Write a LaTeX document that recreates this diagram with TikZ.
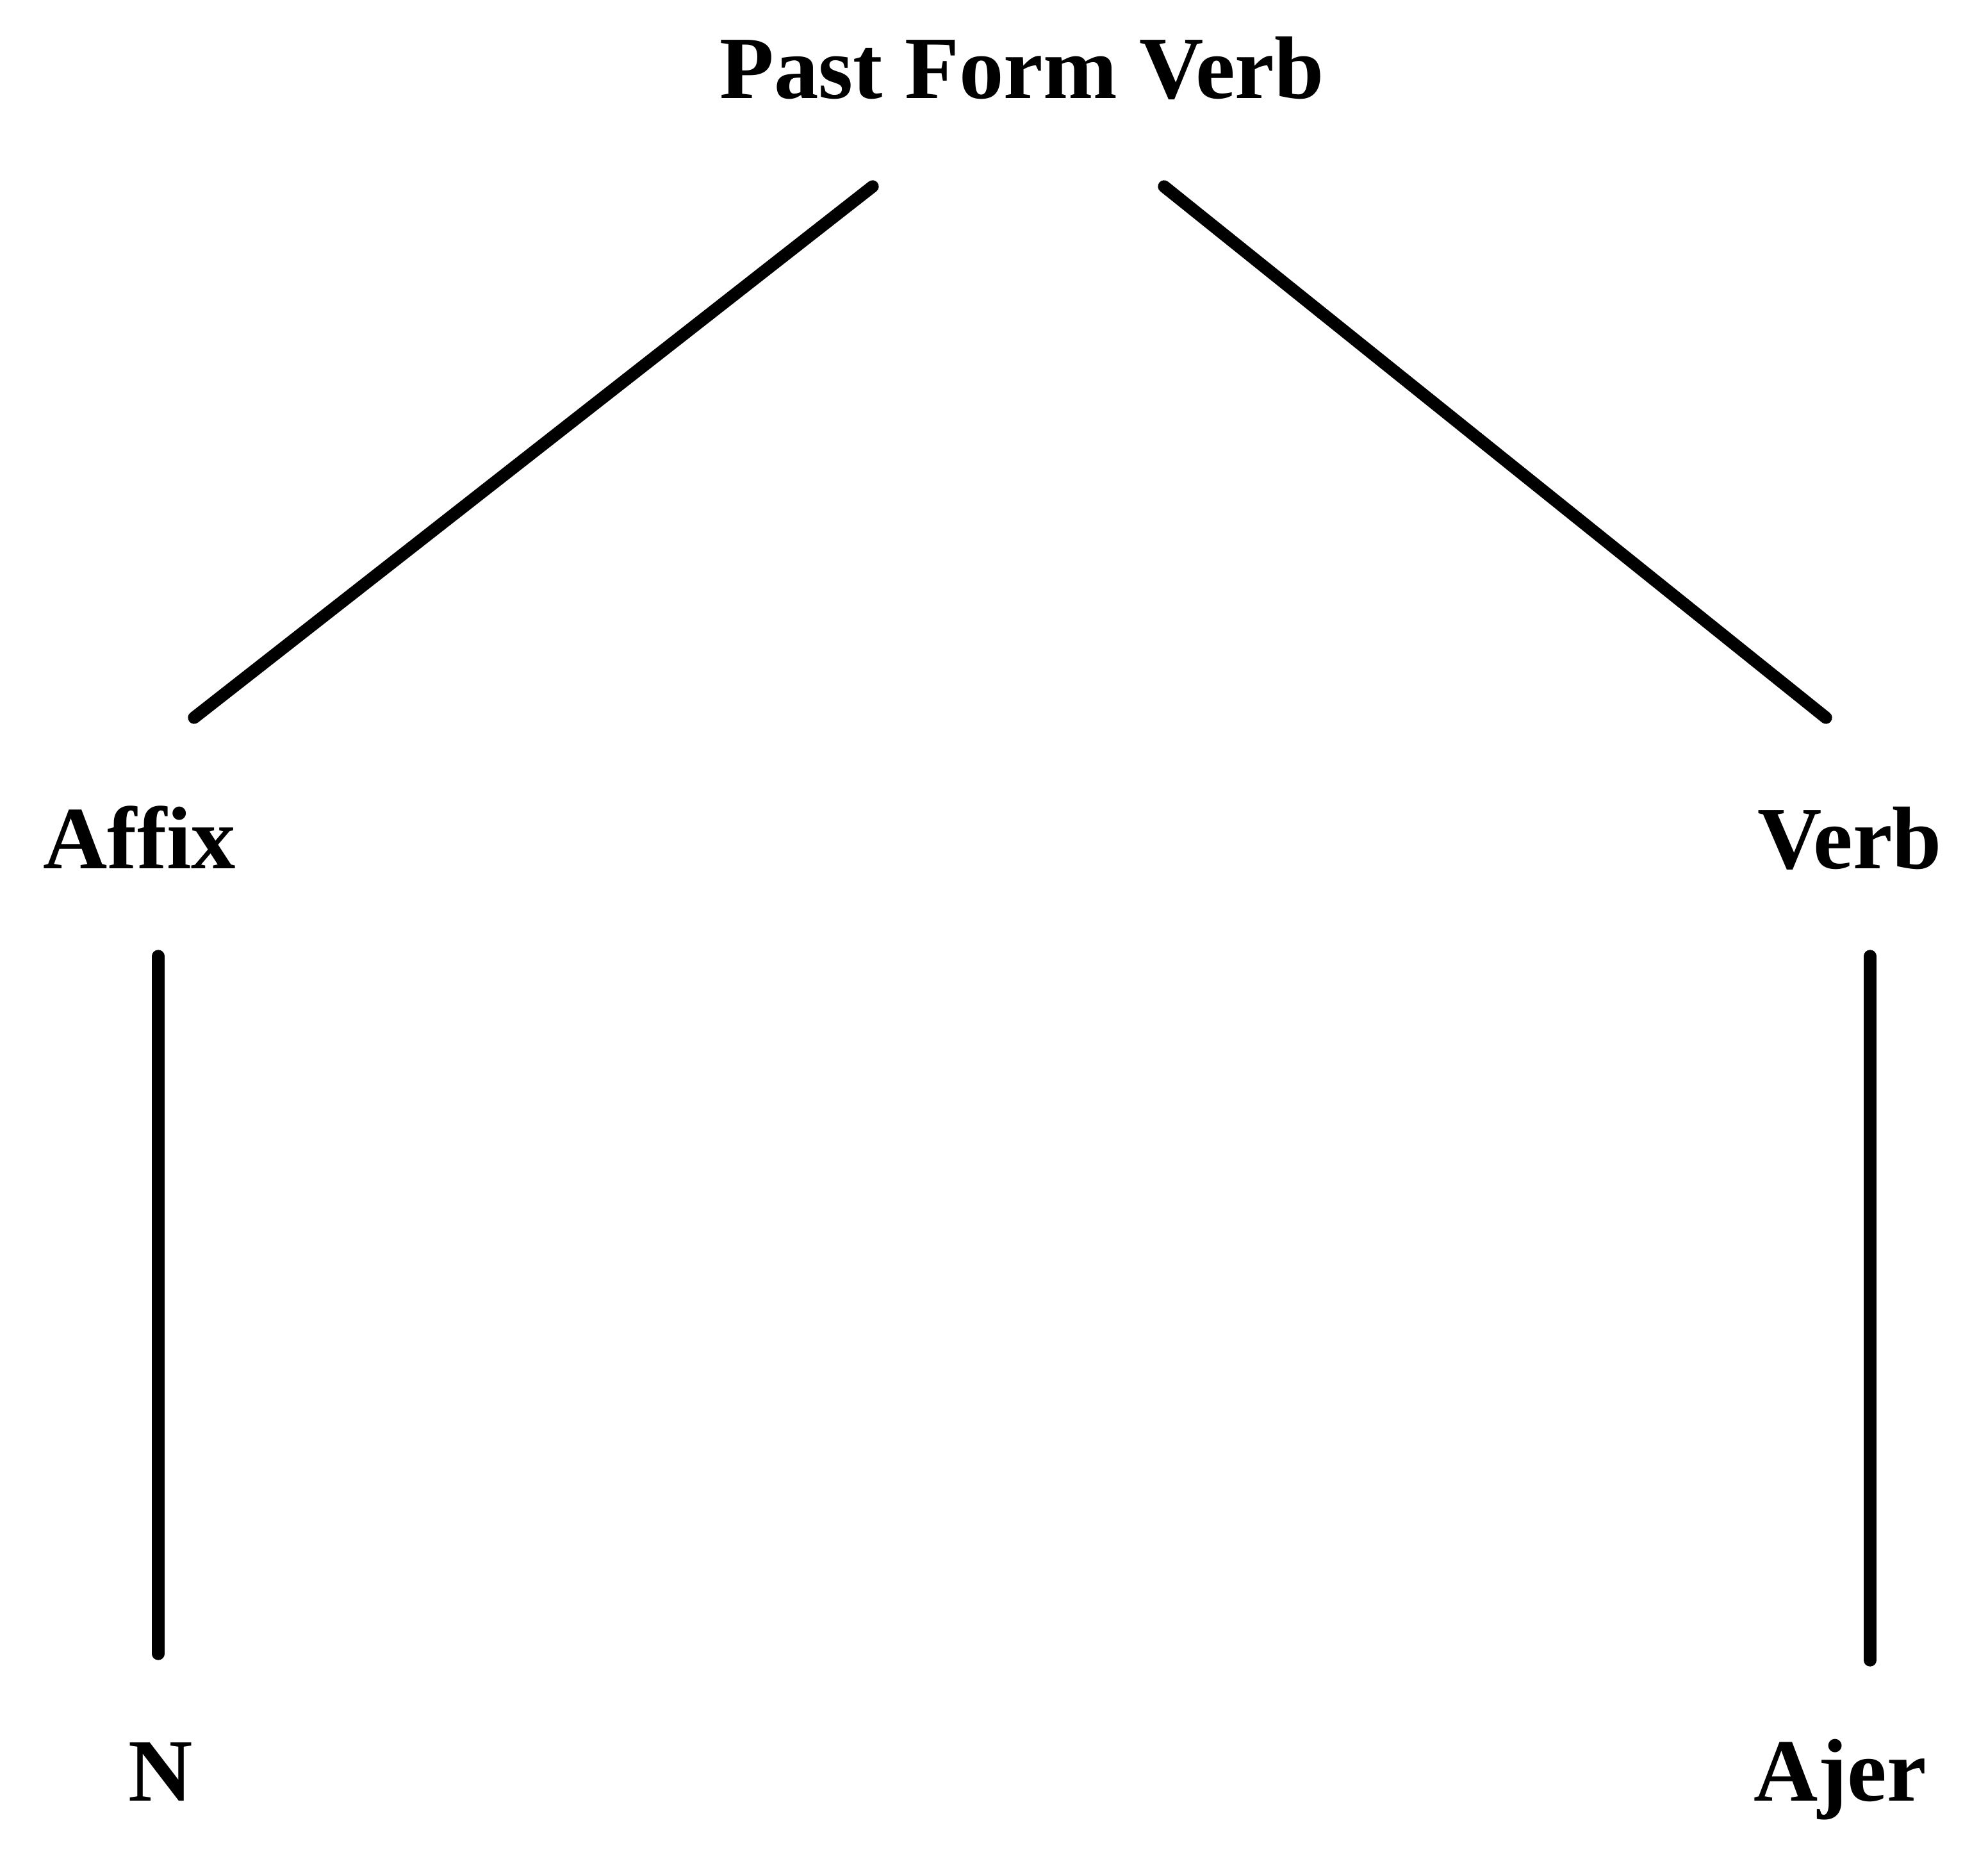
\documentclass[tikz,border=0pt]{standalone}
\usepackage{fontspec}
\setmainfont{Liberation Serif}
\usepackage{tikz}

\tikzset{
  lbl/.style={inner sep=0pt, anchor=base, font=\fontsize{39.5}{47}\selectfont\bfseries},
  branch/.style={line width=5.5pt, line cap=round}
}

\begin{document}
\begin{tikzpicture}
\useasboundingbox (0,0) rectangle (31.03,29.11);

% labels
\node[lbl] (pfv) at (15.95,27.57) {Past Form Verb};
\node[lbl] (affix) at (2.18,15.55) {Affix};
\node[lbl] (verb) at (28.87,15.55) {Verb};
\node[lbl] (n) at (2.51,1.01) {N};
\node[lbl] (ajer) at (28.72,1.01) {Ajer};

% line ends
\coordinate (l1a) at (13.62,26.20);
\coordinate (l1b) at (3.03,17.91);
\coordinate (r1a) at (18.17,26.20);
\coordinate (r1b) at (28.50,17.91);
\coordinate (l2a) at (2.47,14.19);
\coordinate (l2b) at (2.47,3.30);
\coordinate (r2a) at (29.19,14.19);
\coordinate (r2b) at (29.19,3.20);

\draw[branch] (l1a) -- (l1b);
\draw[branch] (r1a) -- (r1b);
\draw[branch] (l2a) -- (l2b);
\draw[branch] (r2a) -- (r2b);
\end{tikzpicture}
\end{document}
